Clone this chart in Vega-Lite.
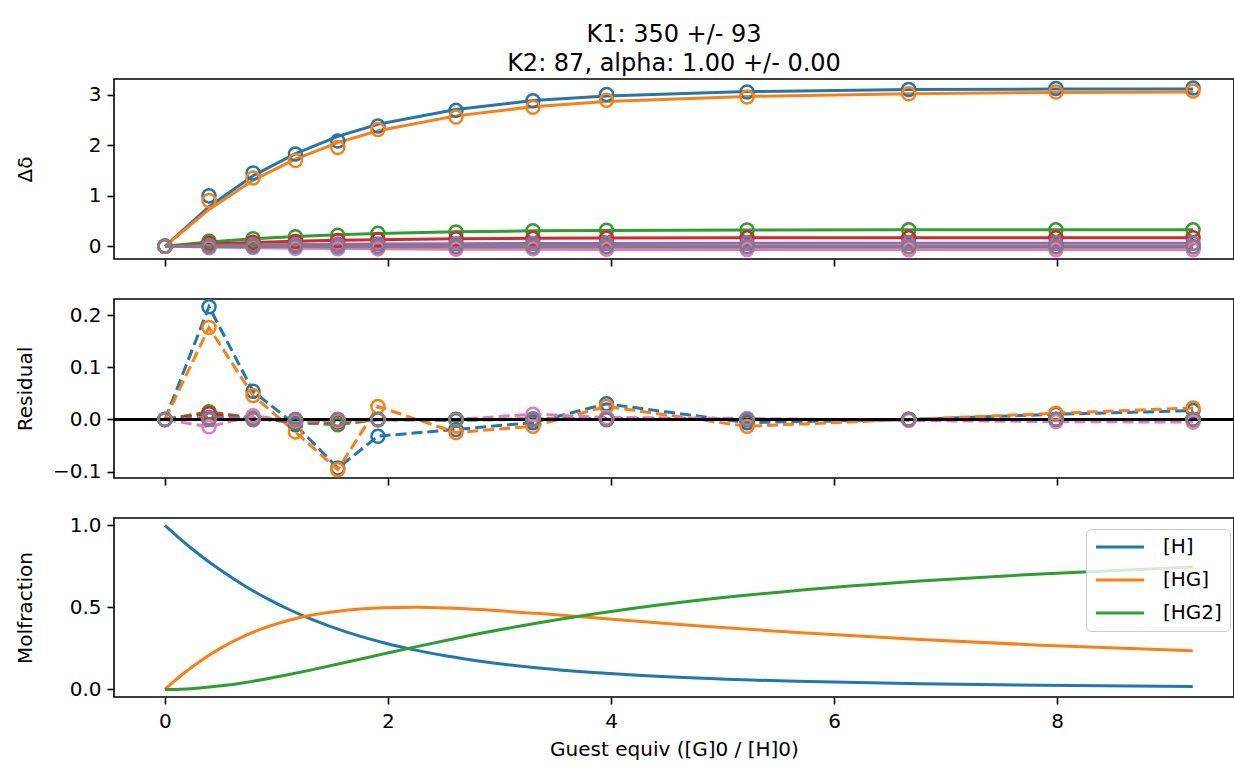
{
  "$schema": "https://vega.github.io/schema/vega-lite/v6.json",
  "padding": {"left": 14, "top": 21, "right": 0, "bottom": 0},
  "bounds": "flush",
  "spacing": 40,
  "config": {
    "font": "DejaVu Sans",
    "view": {"stroke": "#000000", "strokeWidth": 1.6},
    "axis": {"grid": false, "domain": false, "tickColor": "#000000", "tickWidth": 1.6, "tickSize": 7, "labelFontSize": 20, "labelColor": "#000000", "labelFont": "DejaVu Sans", "titleFont": "DejaVu Sans", "titleFontSize": 20, "titleFontWeight": "normal", "titleColor": "#000000", "labelPadding": 6}
  },
  "resolve": {"scale": {"color": "independent", "y": "independent"}, "legend": {"color": "independent"}},
  "datasets": {
    "pts": [
      {"s":"s1","x":0,"fit":0,"obs":0,"res":0},
      {"s":"s1","x":0.395,"fit":0.784,"obs":1.0,"res":0.216},
      {"s":"s1","x":0.79,"fit":1.40,"obs":1.454,"res":0.054},
      {"s":"s1","x":1.17,"fit":1.838,"obs":1.828,"res":-0.01},
      {"s":"s1","x":1.55,"fit":2.179,"obs":2.086,"res":-0.093},
      {"s":"s1","x":1.91,"fit":2.419,"obs":2.387,"res":-0.032},
      {"s":"s1","x":2.61,"fit":2.714,"obs":2.695,"res":-0.019},
      {"s":"s1","x":3.3,"fit":2.89,"obs":2.884,"res":-0.006},
      {"s":"s1","x":3.96,"fit":2.981,"obs":3.011,"res":0.03},
      {"s":"s1","x":5.22,"fit":3.067,"obs":3.061,"res":-0.006},
      {"s":"s1","x":6.67,"fit":3.107,"obs":3.107,"res":0},
      {"s":"s1","x":7.99,"fit":3.118,"obs":3.128,"res":0.01},
      {"s":"s1","x":9.22,"fit":3.121,"obs":3.138,"res":0.017},
      {"s":"s2","x":0,"fit":0,"obs":0,"res":0},
      {"s":"s2","x":0.395,"fit":0.73,"obs":0.906,"res":0.176},
      {"s":"s2","x":0.79,"fit":1.31,"obs":1.356,"res":0.046},
      {"s":"s2","x":1.17,"fit":1.727,"obs":1.703,"res":-0.024},
      {"s":"s2","x":1.55,"fit":2.055,"obs":1.959,"res":-0.096},
      {"s":"s2","x":1.91,"fit":2.29,"obs":2.315,"res":0.025},
      {"s":"s2","x":2.61,"fit":2.586,"obs":2.561,"res":-0.025},
      {"s":"s2","x":3.3,"fit":2.769,"obs":2.756,"res":-0.013},
      {"s":"s2","x":3.96,"fit":2.869,"obs":2.894,"res":0.025},
      {"s":"s2","x":5.22,"fit":2.972,"obs":2.959,"res":-0.013},
      {"s":"s2","x":6.67,"fit":3.026,"obs":3.026,"res":0},
      {"s":"s2","x":7.99,"fit":3.049,"obs":3.061,"res":0.012},
      {"s":"s2","x":9.22,"fit":3.059,"obs":3.081,"res":0.022},
      {"s":"s3","x":0,"fit":0,"obs":0,"res":0},
      {"s":"s3","x":0.395,"fit":0.083,"obs":0.098,"res":0.015},
      {"s":"s3","x":0.79,"fit":0.148,"obs":0.151,"res":0.003},
      {"s":"s3","x":1.17,"fit":0.194,"obs":0.188,"res":-0.006},
      {"s":"s3","x":1.55,"fit":0.23,"obs":0.22,"res":-0.01},
      {"s":"s3","x":1.91,"fit":0.256,"obs":0.256,"res":0},
      {"s":"s3","x":2.61,"fit":0.287,"obs":0.285,"res":-0.002},
      {"s":"s3","x":3.3,"fit":0.306,"obs":0.307,"res":0.001},
      {"s":"s3","x":3.96,"fit":0.315,"obs":0.317,"res":0.002},
      {"s":"s3","x":5.22,"fit":0.324,"obs":0.324,"res":0},
      {"s":"s3","x":6.67,"fit":0.329,"obs":0.329,"res":0},
      {"s":"s3","x":7.99,"fit":0.33,"obs":0.33,"res":0},
      {"s":"s3","x":9.22,"fit":0.33,"obs":0.33,"res":0},
      {"s":"s4","x":0,"fit":0,"obs":0,"res":0},
      {"s":"s4","x":0.395,"fit":0.043,"obs":0.054,"res":0.011},
      {"s":"s4","x":0.79,"fit":0.076,"obs":0.078,"res":0.002},
      {"s":"s4","x":1.17,"fit":0.1,"obs":0.096,"res":-0.004},
      {"s":"s4","x":1.55,"fit":0.119,"obs":0.114,"res":-0.005},
      {"s":"s4","x":1.91,"fit":0.132,"obs":0.132,"res":0},
      {"s":"s4","x":2.61,"fit":0.148,"obs":0.148,"res":0},
      {"s":"s4","x":3.3,"fit":0.157,"obs":0.157,"res":0},
      {"s":"s4","x":3.96,"fit":0.162,"obs":0.163,"res":0.001},
      {"s":"s4","x":5.22,"fit":0.167,"obs":0.167,"res":0},
      {"s":"s4","x":6.67,"fit":0.169,"obs":0.169,"res":0},
      {"s":"s4","x":7.99,"fit":0.17,"obs":0.17,"res":0},
      {"s":"s4","x":9.22,"fit":0.17,"obs":0.17,"res":0},
      {"s":"s5","x":0,"fit":0,"obs":0,"res":0},
      {"s":"s5","x":0.395,"fit":0.015,"obs":0.019,"res":0.004},
      {"s":"s5","x":0.79,"fit":0.027,"obs":0.03,"res":0.003},
      {"s":"s5","x":1.17,"fit":0.035,"obs":0.033,"res":-0.002},
      {"s":"s5","x":1.55,"fit":0.042,"obs":0.039,"res":-0.003},
      {"s":"s5","x":1.91,"fit":0.047,"obs":0.047,"res":0},
      {"s":"s5","x":2.61,"fit":0.052,"obs":0.052,"res":0},
      {"s":"s5","x":3.3,"fit":0.056,"obs":0.057,"res":0.001},
      {"s":"s5","x":3.96,"fit":0.057,"obs":0.057,"res":0},
      {"s":"s5","x":5.22,"fit":0.059,"obs":0.059,"res":0},
      {"s":"s5","x":6.67,"fit":0.06,"obs":0.06,"res":0},
      {"s":"s5","x":7.99,"fit":0.06,"obs":0.06,"res":0},
      {"s":"s5","x":9.22,"fit":0.06,"obs":0.06,"res":0},
      {"s":"s6","x":0,"fit":0,"obs":0,"res":0},
      {"s":"s6","x":0.395,"fit":-0.003,"obs":-0.003,"res":0},
      {"s":"s6","x":0.79,"fit":-0.004,"obs":-0.004,"res":0},
      {"s":"s6","x":1.17,"fit":-0.006,"obs":-0.006,"res":0},
      {"s":"s6","x":1.55,"fit":-0.007,"obs":-0.007,"res":0},
      {"s":"s6","x":1.91,"fit":-0.008,"obs":-0.008,"res":0},
      {"s":"s6","x":2.61,"fit":-0.009,"obs":-0.009,"res":0},
      {"s":"s6","x":3.3,"fit":-0.009,"obs":-0.009,"res":0},
      {"s":"s6","x":3.96,"fit":-0.01,"obs":-0.01,"res":0},
      {"s":"s6","x":5.22,"fit":-0.01,"obs":-0.01,"res":0},
      {"s":"s6","x":6.67,"fit":-0.01,"obs":-0.01,"res":0},
      {"s":"s6","x":7.99,"fit":-0.01,"obs":-0.01,"res":0},
      {"s":"s6","x":9.22,"fit":-0.01,"obs":-0.01,"res":0},
      {"s":"s7","x":0,"fit":0,"obs":0,"res":0},
      {"s":"s7","x":0.395,"fit":-0.016,"obs":-0.03,"res":-0.014},
      {"s":"s7","x":0.79,"fit":-0.029,"obs":-0.022,"res":0.007},
      {"s":"s7","x":1.17,"fit":-0.038,"obs":-0.041,"res":-0.003},
      {"s":"s7","x":1.55,"fit":-0.045,"obs":-0.047,"res":-0.002},
      {"s":"s7","x":1.91,"fit":-0.05,"obs":-0.051,"res":-0.001},
      {"s":"s7","x":2.61,"fit":-0.057,"obs":-0.057,"res":0},
      {"s":"s7","x":3.3,"fit":-0.06,"obs":-0.05,"res":0.01},
      {"s":"s7","x":3.96,"fit":-0.062,"obs":-0.058,"res":0.004},
      {"s":"s7","x":5.22,"fit":-0.064,"obs":-0.062,"res":0.002},
      {"s":"s7","x":6.67,"fit":-0.065,"obs":-0.067,"res":-0.002},
      {"s":"s7","x":7.99,"fit":-0.065,"obs":-0.069,"res":-0.004},
      {"s":"s7","x":9.22,"fit":-0.065,"obs":-0.07,"res":-0.005},
      {"s":"s8","x":0,"fit":0,"obs":0,"res":0},
      {"s":"s8","x":0.395,"fit":-0.003,"obs":-0.003,"res":0},
      {"s":"s8","x":0.79,"fit":-0.004,"obs":-0.004,"res":0},
      {"s":"s8","x":1.17,"fit":-0.006,"obs":-0.006,"res":0},
      {"s":"s8","x":1.55,"fit":-0.007,"obs":-0.007,"res":0},
      {"s":"s8","x":1.91,"fit":-0.008,"obs":-0.008,"res":0},
      {"s":"s8","x":2.61,"fit":-0.009,"obs":-0.009,"res":0},
      {"s":"s8","x":3.3,"fit":-0.009,"obs":-0.009,"res":0},
      {"s":"s8","x":3.96,"fit":-0.01,"obs":-0.01,"res":0},
      {"s":"s8","x":5.22,"fit":-0.01,"obs":-0.01,"res":0},
      {"s":"s8","x":6.67,"fit":-0.01,"obs":-0.01,"res":0},
      {"s":"s8","x":7.99,"fit":-0.01,"obs":-0.01,"res":0},
      {"s":"s8","x":9.22,"fit":-0.01,"obs":-0.01,"res":0}
    ],
    "mol": [
      {"sp":"[H]","x":0,"v":1},
      {"sp":"[H]","x":0.055,"v":0.9659},
      {"sp":"[H]","x":0.135,"v":0.918},
      {"sp":"[H]","x":0.264,"v":0.8456},
      {"sp":"[H]","x":0.504,"v":0.7244},
      {"sp":"[H]","x":0.724,"v":0.6276},
      {"sp":"[H]","x":0.93,"v":0.5489},
      {"sp":"[H]","x":1.122,"v":0.4842},
      {"sp":"[H]","x":1.305,"v":0.4303},
      {"sp":"[H]","x":1.645,"v":0.3464},
      {"sp":"[H]","x":1.961,"v":0.2848},
      {"sp":"[H]","x":2.258,"v":0.2383},
      {"sp":"[H]","x":2.54,"v":0.2023},
      {"sp":"[H]","x":2.811,"v":0.174},
      {"sp":"[H]","x":3.329,"v":0.1325},
      {"sp":"[H]","x":4.063,"v":0.0935},
      {"sp":"[H]","x":4.764,"v":0.0695},
      {"sp":"[H]","x":5.669,"v":0.0496},
      {"sp":"[H]","x":6.771,"v":0.0347},
      {"sp":"[H]","x":7.852,"v":0.0257},
      {"sp":"[H]","x":9.217,"v":0.0185},
      {"sp":"[HG]","x":0,"v":0},
      {"sp":"[HG]","x":0.055,"v":0.0338},
      {"sp":"[HG]","x":0.135,"v":0.0803},
      {"sp":"[HG]","x":0.264,"v":0.148},
      {"sp":"[HG]","x":0.504,"v":0.2535},
      {"sp":"[HG]","x":0.724,"v":0.3295},
      {"sp":"[HG]","x":0.93,"v":0.3842},
      {"sp":"[HG]","x":1.122,"v":0.4237},
      {"sp":"[HG]","x":1.305,"v":0.4518},
      {"sp":"[HG]","x":1.645,"v":0.4849},
      {"sp":"[HG]","x":1.961,"v":0.4984},
      {"sp":"[HG]","x":2.258,"v":0.5005},
      {"sp":"[HG]","x":2.54,"v":0.4957},
      {"sp":"[HG]","x":2.811,"v":0.487},
      {"sp":"[HG]","x":3.329,"v":0.4639},
      {"sp":"[HG]","x":4.063,"v":0.4254},
      {"sp":"[HG]","x":4.764,"v":0.389},
      {"sp":"[HG]","x":5.669,"v":0.3469},
      {"sp":"[HG]","x":6.771,"v":0.304},
      {"sp":"[HG]","x":7.852,"v":0.2699},
      {"sp":"[HG]","x":9.217,"v":0.2355},
      {"sp":"[HG2]","x":0,"v":0},
      {"sp":"[HG2]","x":0.055,"v":0.0003},
      {"sp":"[HG2]","x":0.135,"v":0.0018},
      {"sp":"[HG2]","x":0.264,"v":0.0064},
      {"sp":"[HG2]","x":0.504,"v":0.0221},
      {"sp":"[HG2]","x":0.724,"v":0.043},
      {"sp":"[HG2]","x":0.93,"v":0.0669},
      {"sp":"[HG2]","x":1.122,"v":0.0921},
      {"sp":"[HG2]","x":1.305,"v":0.1179},
      {"sp":"[HG2]","x":1.645,"v":0.1687},
      {"sp":"[HG2]","x":1.961,"v":0.2168},
      {"sp":"[HG2]","x":2.258,"v":0.2612},
      {"sp":"[HG2]","x":2.54,"v":0.3019},
      {"sp":"[HG2]","x":2.811,"v":0.339},
      {"sp":"[HG2]","x":3.329,"v":0.4036},
      {"sp":"[HG2]","x":4.063,"v":0.4811},
      {"sp":"[HG2]","x":4.764,"v":0.5415},
      {"sp":"[HG2]","x":5.669,"v":0.6036},
      {"sp":"[HG2]","x":6.771,"v":0.6612},
      {"sp":"[HG2]","x":7.852,"v":0.7044},
      {"sp":"[HG2]","x":9.217,"v":0.746}
    ]
  },
  "vconcat": [
    {
      "width": 1120,
      "height": 180,
      "title": {"text": ["K1: 350 +/- 93", "K2: 87, alpha: 1.00 +/- 0.00"], "fontSize": 24, "fontWeight": "normal", "lineHeight": 29, "offset": 1, "anchor": "middle", "frame": "group", "color": "#000000", "font": "DejaVu Sans"},
      "data": {"name": "pts"},
      "layer": [
        {
          "mark": {"type": "line", "strokeWidth": 3},
          "encoding": {
            "x": {"field": "x", "type": "quantitative", "scale": {"domain": [-0.457, 9.587], "nice": false, "zero": false}, "axis": {"values": [0, 2, 4, 6, 8], "labels": false, "title": null}},
            "y": {"field": "fit", "type": "quantitative", "title": "Δδ", "scale": {"domain": [-0.252, 3.317], "nice": false, "zero": false}, "axis": {"values": [0, 1, 2, 3], "format": "d", "titleX": -89, "titleY": 90, "titleAngle": 270, "titleAlign": "center", "titleBaseline": "middle"}},
            "color": {"field": "s", "type": "nominal", "scale": {"domain": ["s1","s2","s3","s4","s5","s6","s7","s8"], "range": ["#1f77b4","#ff7f0e","#2ca02c","#d62728","#9467bd","#8c564b","#e377c2","#7f7f7f"]}, "legend": null}
          }
        },
        {
          "mark": {"type": "point", "shape": "circle", "filled": false, "size": 170, "strokeWidth": 2.5, "opacity": 1},
          "encoding": {
            "x": {"field": "x", "type": "quantitative"},
            "y": {"field": "obs", "type": "quantitative", "title": "Δδ"},
            "color": {"field": "s", "type": "nominal", "legend": null}
          }
        }
      ]
    },
    {
      "width": 1120,
      "height": 179,
      "data": {"name": "pts"},
      "layer": [
        {
          "mark": {"type": "line", "strokeWidth": 3, "strokeDash": [11, 5]},
          "encoding": {
            "x": {"field": "x", "type": "quantitative", "scale": {"domain": [-0.457, 9.587], "nice": false, "zero": false}, "axis": {"values": [0, 2, 4, 6, 8], "labels": false, "title": null}},
            "y": {"field": "res", "type": "quantitative", "title": "Residual", "scale": {"domain": [-0.112, 0.2307], "nice": false, "zero": false}, "axis": {"values": [-0.1, 0, 0.1, 0.2], "format": ".1f", "titleX": -89, "titleY": 89.5, "titleAngle": 270, "titleAlign": "center", "titleBaseline": "middle"}},
            "color": {"field": "s", "type": "nominal", "scale": {"domain": ["s1","s2","s3","s4","s5","s6","s7","s8"], "range": ["#1f77b4","#ff7f0e","#2ca02c","#d62728","#9467bd","#8c564b","#e377c2","#7f7f7f"]}, "legend": null}
          }
        },
        {
          "mark": {"type": "rule", "strokeWidth": 3, "color": "#000000"},
          "encoding": {"y": {"datum": 0}}
        },
        {
          "mark": {"type": "point", "shape": "circle", "filled": false, "size": 170, "strokeWidth": 2.5, "opacity": 1},
          "encoding": {
            "x": {"field": "x", "type": "quantitative"},
            "y": {"field": "res", "type": "quantitative", "title": "Residual"},
            "color": {"field": "s", "type": "nominal", "legend": null}
          }
        }
      ]
    },
    {
      "width": 1120,
      "height": 179,
      "data": {"name": "mol"},
      "mark": {"type": "line", "strokeWidth": 3, "interpolate": "monotone"},
      "encoding": {
        "x": {"field": "x", "type": "quantitative", "scale": {"domain": [-0.457, 9.587], "nice": false, "zero": false}, "axis": {"values": [0, 2, 4, 6, 8], "format": "d", "title": "Guest equiv ([G]0 / [H]0)", "labelPadding": 7, "titlePadding": 8}},
        "y": {"field": "v", "type": "quantitative", "title": "Molfraction", "scale": {"domain": [-0.046, 1.045], "nice": false, "zero": false}, "axis": {"values": [0, 0.5, 1], "format": ".1f", "titleX": -89, "titleY": 89.5, "titleAngle": 270, "titleAlign": "center", "titleBaseline": "middle"}},
        "color": {"field": "sp", "type": "nominal", "scale": {"domain": ["[H]", "[HG]", "[HG2]"], "range": ["#1f77b4", "#ff7f0e", "#2ca02c"]}, "legend": {"title": null, "orient": "none", "legendX": 972, "legendY": 11, "symbolType": "M-1,0H5", "symbolSize": 256, "symbolStrokeWidth": 3, "labelFontSize": 20, "labelFont": "DejaVu Sans", "labelColor": "#000000", "labelOffset": 49, "padding": 8, "rowPadding": 13, "fillColor": "rgba(255,255,255,0.8)", "strokeColor": "#cccccc", "cornerRadius": 5}}
      }
    }
  ]
}
